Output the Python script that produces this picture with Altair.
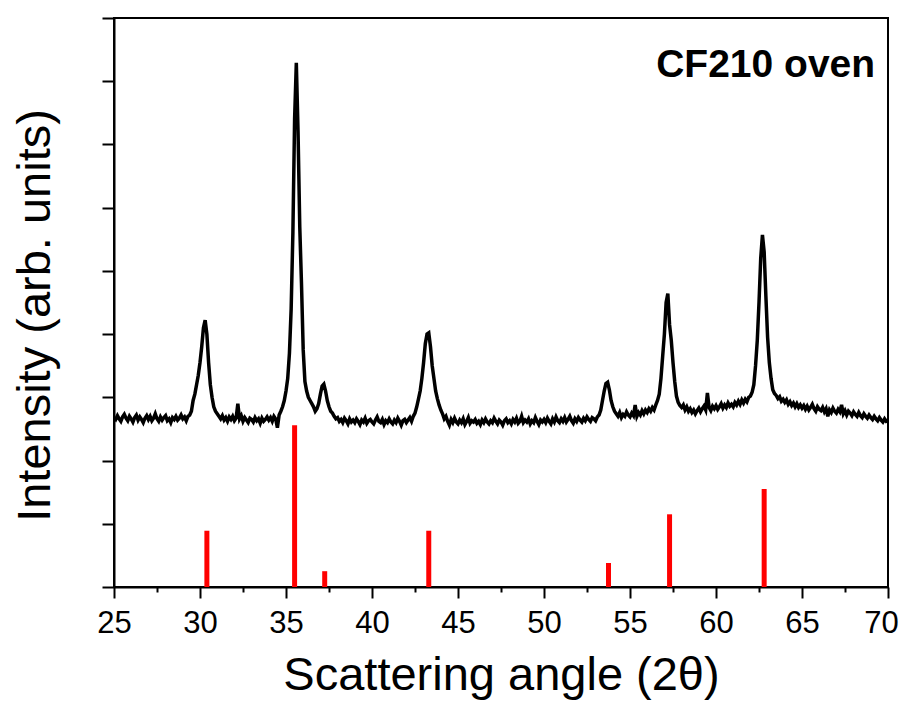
import altair as alt
import pandas as pd

# XRD pattern, 25.0 .. 70.0 deg in 0.1 deg steps (one row per degree)
two_theta_start = 25.0
two_theta_step = 0.1
intensity = [
    2.68, 2.65, 2.71, 2.66, 2.62, 2.69, 2.73, 2.67, 2.63, 2.70,  # 25
    2.66, 2.61, 2.68, 2.72, 2.64, 2.69, 2.65, 2.60, 2.67, 2.71,  # 26
    2.65, 2.70, 2.63, 2.67, 2.74, 2.66, 2.62, 2.69, 2.64, 2.68,  # 27
    2.71, 2.63, 2.66, 2.60, 2.68, 2.65, 2.70, 2.64, 2.67, 2.72,  # 28
    2.66, 2.69, 2.63, 2.70, 2.72, 2.78, 2.95, 3.05, 3.20, 3.35,  # 29
    3.55, 3.80, 4.10, 4.22, 4.00, 3.55, 3.20, 3.00, 2.85, 2.78,  # 30
    2.74, 2.70, 2.66, 2.71, 2.64, 2.68, 2.62, 2.69, 2.65, 2.70,  # 31
    2.63, 2.67, 2.90, 2.66, 2.71, 2.62, 2.68, 2.64, 2.60, 2.67,  # 32
    2.65, 2.61, 2.68, 2.63, 2.66, 2.59, 2.67, 2.62, 2.65, 2.69,  # 33
    2.64, 2.68, 2.62, 2.70, 2.66, 2.52, 2.72, 2.78, 2.85, 2.95,  # 34
    3.10, 3.30, 3.70, 4.40, 5.60, 7.40, 8.29, 7.20, 5.70, 4.80,  # 35
    3.75, 3.25, 3.10, 3.00, 2.95, 2.90, 2.85, 2.78, 2.82, 2.90,  # 36
    3.05, 3.18, 3.21, 3.10, 2.95, 2.85, 2.78, 2.75, 2.70, 2.66,  # 37
    2.68, 2.62, 2.65, 2.60, 2.67, 2.63, 2.58, 2.66, 2.61, 2.64,  # 38
    2.60, 2.66, 2.62, 2.57, 2.64, 2.61, 2.67, 2.59, 2.63, 2.65,  # 39
    2.61, 2.58, 2.64, 2.69, 2.62, 2.60, 2.65, 2.57, 2.63, 2.60,  # 40
    2.66, 2.61, 2.58, 2.64, 2.60, 2.67, 2.62, 2.56, 2.63, 2.65,  # 41
    2.60, 2.64, 2.68, 2.62, 2.70, 2.75, 2.85, 2.97, 3.10, 3.30,  # 42
    3.55, 3.85, 4.00, 4.02, 3.80, 3.50, 3.30, 3.10, 2.98, 2.88,  # 43
    2.80, 2.74, 2.66, 2.70, 2.62, 2.56, 2.65, 2.60, 2.67, 2.61,  # 44
    2.58, 2.64, 2.60, 2.66, 2.57, 2.62, 2.68, 2.59, 2.63, 2.61,  # 45
    2.65, 2.59, 2.62, 2.57, 2.64, 2.60, 2.66, 2.61, 2.58, 2.63,  # 46
    2.60, 2.67, 2.62, 2.58, 2.64, 2.61, 2.56, 2.63, 2.66, 2.60,  # 47
    2.63, 2.58, 2.65, 2.61, 2.67, 2.59, 2.62, 2.70, 2.60, 2.64,  # 48
    2.61, 2.66, 2.58, 2.63, 2.60, 2.68, 2.62, 2.57, 2.64, 2.61,  # 49
    2.65, 2.60, 2.67, 2.62, 2.58, 2.66, 2.61, 2.69, 2.63, 2.60,  # 50
    2.66, 2.62, 2.68, 2.61, 2.65, 2.70, 2.63, 2.59, 2.66, 2.62,  # 51
    2.68, 2.64, 2.61, 2.67, 2.63, 2.69, 2.65, 2.62, 2.68, 2.66,  # 52
    2.63, 2.69, 2.72, 2.80, 2.95, 3.10, 3.22, 3.24, 3.12, 2.95,  # 53
    2.85, 2.78, 2.74, 2.70, 2.76, 2.68, 2.73, 2.70, 2.77, 2.72,  # 54
    2.69, 2.75, 2.71, 2.88, 2.70, 2.76, 2.72, 2.79, 2.74, 2.80,  # 55
    2.76, 2.82, 2.78, 2.84, 2.80, 2.88, 2.95, 3.05, 3.30, 3.65,  # 56
    4.00, 4.50, 4.64, 4.15, 3.90, 3.55, 3.25, 3.02, 2.92, 2.87,  # 57
    2.84, 2.88, 2.80, 2.85, 2.78, 2.82, 2.76, 2.80, 2.74, 2.79,  # 58
    2.83, 2.77, 2.82, 2.86, 2.80, 3.07, 2.84, 2.79, 2.86, 2.82,  # 59
    2.87, 2.81, 2.85, 2.90, 2.83, 2.88, 2.84, 2.91, 2.86, 2.89,  # 60
    2.85, 2.92, 2.88, 2.94, 2.89, 2.96, 2.91, 2.97, 2.93, 3.00,  # 61
    3.02, 3.08, 3.20, 3.50, 3.90, 4.50, 5.20, 5.57, 5.30, 4.60,  # 62
    3.95, 3.55, 3.30, 3.12, 3.06, 3.03, 2.98, 3.01, 2.94, 2.97,  # 63
    2.92, 2.96, 2.89, 2.93, 2.87, 2.91, 2.85, 2.90, 2.84, 2.88,  # 64
    2.83, 2.87, 2.81, 2.86, 2.80, 2.84, 2.89, 2.82, 2.78, 2.85,  # 65
    2.81, 2.79, 2.84, 2.77, 2.82, 2.70, 2.80, 2.76, 2.83, 2.78,  # 66
    2.75, 2.81, 2.77, 2.88, 2.74, 2.79, 2.72, 2.78, 2.75, 2.71,  # 67
    2.77, 2.73, 2.70, 2.76, 2.71, 2.68, 2.74, 2.70, 2.67, 2.72,  # 68
    2.68, 2.65, 2.70, 2.66, 2.63, 2.68, 2.64, 2.61, 2.66, 2.62,  # 69
    2.63,                                                        # 70
]
two_theta = [round(two_theta_start + i * two_theta_step, 1) for i in range(len(intensity))]

# reference pattern (red sticks)
ref_positions = [30.4, 35.5, 37.25, 43.3, 53.75, 57.3, 62.8]
ref_heights = [0.89, 2.56, 0.25, 0.89, 0.38, 1.15, 1.55]

# annotation
label_text = ["CF210 oven"]
label_x = [69.25]
label_y = [8.07]

x_ticks = [25 + 2.5 * i for i in range(19)]
y_ticks = [0.5 * i for i in range(19)]

curve_df = pd.DataFrame({"two_theta": two_theta, "intensity": intensity})
ref_df = pd.DataFrame({"two_theta": ref_positions, "height": ref_heights})
label_df = pd.DataFrame({"text": label_text, "x": label_x, "y": label_y})

FONT = "Liberation Sans"

x_scale = alt.Scale(domain=[25, 70], nice=False, zero=False, padding=0)
y_scale = alt.Scale(domain=[0, 9], nice=False, zero=False, padding=0)

x_axis = alt.Axis(
    values=x_ticks,
    labelExpr="datum.value % 5 === 0 ? datum.label : ''",
    labelOffset={"condition": {"test": "datum.value === 70", "value": -7}, "value": 0},
    tickSize={"condition": {"test": "datum.value % 5 === 0", "value": 11}, "value": 5},
    title="Scattering angle (2θ)",
    grid=False,
    labelFlush=False,
    labelFontSize=31,
    labelPadding=10,
    titleFontSize=47,
    titlePadding=14,
)
y_axis = alt.Axis(
    values=y_ticks,
    labels=False,
    tickSize={"condition": {"test": "datum.value % 1 === 0", "value": 12}, "value": 6},
    title="Intensity (arb. units)",
    grid=False,
    titleFontSize=47,
    titlePadding=42,
    titleY=297,
)

curve = alt.Chart(curve_df).mark_line(color="black", strokeWidth=3.5, clip=True).encode(
    x=alt.X("two_theta:Q", scale=x_scale, axis=x_axis),
    y=alt.Y("intensity:Q", scale=y_scale, axis=y_axis),
)

sticks = alt.Chart(ref_df).mark_bar(color="#ff0000", width=5).encode(
    x=alt.X("two_theta:Q", scale=x_scale),
    y=alt.Y("height:Q", scale=y_scale),
)

label = alt.Chart(label_df).mark_text(
    align="right", baseline="alphabetic", font=FONT, fontSize=39, fontWeight="bold", color="black"
).encode(
    x=alt.X("x:Q", scale=x_scale),
    y=alt.Y("y:Q", scale=y_scale),
    text="text:N",
)

chart = (
    alt.layer(sticks, curve, label)
    .properties(
        width=774,
        height=569,
        autosize=alt.AutoSizeParams(type="none"),
        padding={"left": 106, "top": 10, "right": 11, "bottom": 113},
    )
    .configure(font=FONT)
    .configure_view(stroke="black", strokeWidth=2)
    .configure_axis(
        domainColor="black",
        domainWidth=2,
        tickColor="black",
        tickWidth=2,
        labelColor="black",
        titleColor="black",
        labelFont=FONT,
        titleFont=FONT,
        titleFontWeight="normal",
    )
)

chart.save("out.html", embed_options={"renderer": "svg", "actions": False})
